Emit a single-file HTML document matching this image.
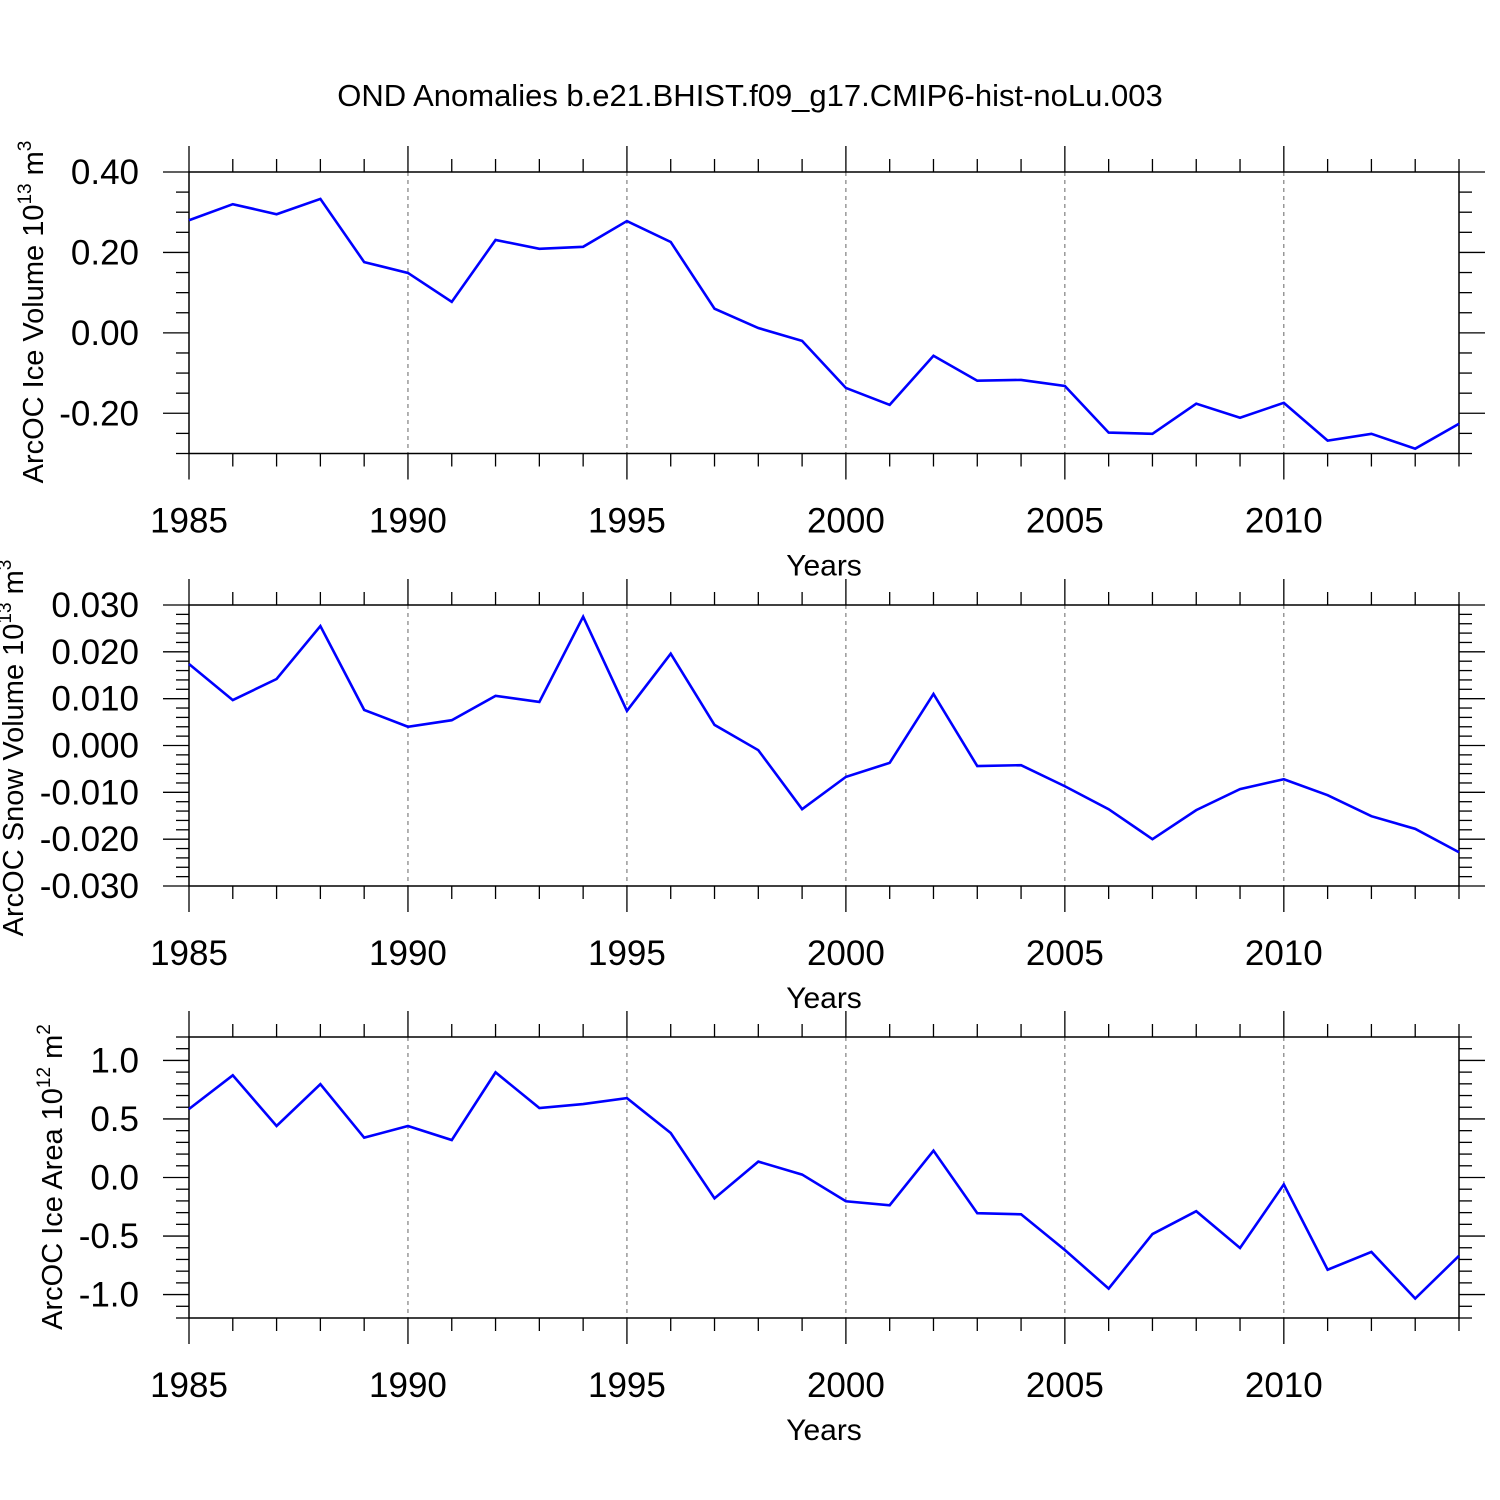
<!DOCTYPE html>
<html><head><meta charset="utf-8"><style>
html,body{margin:0;padding:0;background:#fff;}
svg{display:block;font-family:"Liberation Sans",sans-serif;}
</style></head><body>
<svg id="c" width="1500" height="1500" viewBox="0 0 1500 1500" xmlns="http://www.w3.org/2000/svg">
<rect width="1500" height="1500" fill="#fff"/>
<text x="750" y="106" font-size="31" text-anchor="middle">OND Anomalies b.e21.BHIST.f09_g17.CMIP6-hist-noLu.003</text>
</svg>
<script>
const years = [1985,1986,1987,1988,1989,1990,1991,1992,1993,1994,1995,1996,1997,1998,1999,2000,2001,2002,2003,2004,2005,2006,2007,2008,2009,2010,2011,2012,2013,2014];
const iceVolume = [0.28,0.32,0.295,0.333,0.176,0.149,0.077,0.231,0.209,0.214,0.278,0.226,0.06,0.012,-0.02,-0.137,-0.179,-0.057,-0.119,-0.117,-0.132,-0.248,-0.251,-0.176,-0.211,-0.174,-0.268,-0.251,-0.288,-0.226];
const snowVolume = [0.0174,0.0097,0.0142,0.0255,0.0076,0.004,0.0054,0.0106,0.0093,0.0275,0.0074,0.0196,0.0044,-0.001,-0.0136,-0.0067,-0.0037,0.011,-0.0044,-0.0042,-0.0087,-0.0136,-0.02,-0.0138,-0.0093,-0.0072,-0.0106,-0.0151,-0.0178,-0.0228];
const iceArea = [0.585,0.873,0.44,0.797,0.34,0.44,0.32,0.898,0.593,0.627,0.678,0.38,-0.178,0.136,0.025,-0.203,-0.237,0.229,-0.305,-0.314,-0.619,-0.949,-0.483,-0.288,-0.602,-0.059,-0.788,-0.636,-1.034,-0.669];
const xTickLabels = ["1985","1990","1995","2000","2005","2010"];
const iceVolTicks = ["0.40","0.20","0.00","-0.20"];
const snowTicks = ["0.030","0.020","0.010","0.000","-0.010","-0.020","-0.030"];
const areaTicks = ["1.0","0.5","0.0","-0.5","-1.0"];

const svg = document.getElementById('c');
const NS = 'http://www.w3.org/2000/svg';
function mk(tag, attrs, parent){const e=document.createElementNS(NS,tag);for(const k in attrs)e.setAttribute(k,attrs[k]);(parent||svg).appendChild(e);return e;}
const X0=189, X1=1459;
const xScale = y => X0 + (y-1985)/(2014-1985)*(X1-X0);

function panel(cfg){
  const g = mk('g',{});
  
  
  const top=cfg.top, bot=cfg.bot;
  const yScale = v => top + (cfg.ymax - v)/(cfg.ymax-cfg.ymin)*(bot-top);
  for(let y=1990;y<=2010;y+=5){
    const l=mk('line',{x1:xScale(y),x2:xScale(y),y1:top,y2:bot,stroke:'#666','stroke-width':1,'stroke-dasharray':'4,4'},g);
    
    
  }
  for(let y=1985;y<=2014;y++){
    const L=(y%5===0)?26:13;
    mk('line',{x1:xScale(y),x2:xScale(y),y1:top-L,y2:top,stroke:'#000','stroke-width':1.3},g);
    mk('line',{x1:xScale(y),x2:xScale(y),y1:bot,y2:bot+L,stroke:'#000','stroke-width':1.3},g);
  }
  xTickLabels.forEach(s=>{
    const t=mk('text',{x:xScale(+s),y:bot+79,'font-size':35,'text-anchor':'middle'},g);
    t.textContent=s;
    
    
  });
  const n=Math.round((cfg.ymax-cfg.ymin)/cfg.minor);
  for(let i=0;i<=n;i++){
    const v=cfg.ymin+i*cfg.minor;
    const yy=yScale(v);
    const major=Math.abs(v/cfg.major-Math.round(v/cfg.major))<1e-6;
    const L=major?26:13;
    mk('line',{x1:X0-L,x2:X0,y1:yy,y2:yy,stroke:'#000','stroke-width':1.3},g);
    mk('line',{x1:X1,x2:X1+L,y1:yy,y2:yy,stroke:'#000','stroke-width':1.3},g);
  }
  cfg.ticks.forEach(s=>{
    const t=mk('text',{x:X0-50,y:yScale(+s)+12,'font-size':35,'text-anchor':'end'},g);
    t.textContent=s;
    
    
  });
  const box=mk('rect',{x:X0,y:top,width:X1-X0,height:bot-top,fill:'none',stroke:'#000','stroke-width':1.5},g);
  
  
  const pts=years.map((y,i)=>xScale(y)+','+yScale(cfg.data[i])).join(' ');
  const pl=mk('polyline',{points:pts,fill:'none',stroke:'#0000ff','stroke-width':2.6,'stroke-linejoin':'miter'},g);
  
  
  const xt=mk('text',{x:824,y:bot+122,'font-size':30,'text-anchor':'middle'},g);
  xt.textContent='Years';
  
  
  const yt=mk('text',{transform:`translate(${cfg.ytx},${cfg.ytc}) rotate(-90)`,'font-size':29,'text-anchor':'middle'},g);
  yt.innerHTML=cfg.ylab;
  
  
}
const sup = (a,b)=>`10<tspan font-size="19" dy="-12">${a}</tspan><tspan dy="12"> m</tspan><tspan font-size="19" dy="-12">${b}</tspan>`;
panel({name:'ice-volume-panel',top:172,bot:453.5,ymin:-0.3,ymax:0.4,minor:0.05,major:0.2,ticks:iceVolTicks,data:iceVolume,ytx:43,ytc:312,
  ylab:'ArcOC Ice Volume '+sup('13','3')});
panel({name:'snow-volume-panel',top:605,bot:886,ymin:-0.03,ymax:0.03,minor:0.002,major:0.01,ticks:snowTicks,data:snowVolume,ytx:23,ytc:748,
  ylab:'ArcOC Snow Volume '+sup('13','3')});
panel({name:'ice-area-panel',top:1037,bot:1318,ymin:-1.2,ymax:1.2,minor:0.1,major:0.5,ticks:areaTicks,data:iceArea,ytx:62,ytc:1177,
  ylab:'ArcOC Ice Area '+sup('12','2')});
</script>
</body></html>
